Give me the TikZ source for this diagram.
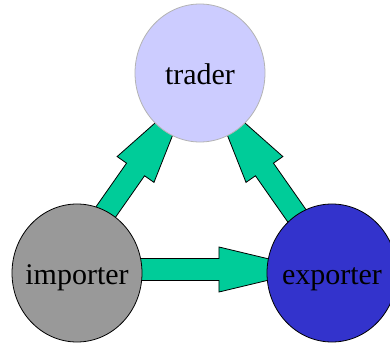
\documentclass[tikz,border=0pt]{standalone}
\usepackage{fontspec}
\setmainfont{Liberation Serif}
\usepackage{tikz}
\usetikzlibrary{calc,backgrounds,shapes.geometric}
\definecolor{tradefill}{HTML}{CCCCFF}
\definecolor{tradeline}{HTML}{B3B3B3}
\definecolor{importfill}{HTML}{999999}
\definecolor{exportfill}{HTML}{3333CC}
\definecolor{flowfill}{HTML}{00CC99}

% thick arrow from #1 to the tip #2
\newcommand{\fatarrow}[2]{%
  \coordinate (barb) at ($(#2)!94bp!(#1)$);
  \filldraw[flow] ($(#1)!11bp!90:(#2)$) -- ($(barb)!11bp!90:(#2)$)
    -- ($(barb)!22.5bp!90:(#2)$) -- (#2)
    -- ($(barb)!22.5bp!-90:(#2)$) -- ($(barb)!11bp!-90:(#2)$)
    -- ($(#1)!11bp!-90:(#2)$) -- cycle;
}

\begin{document}
\begin{tikzpicture}[
x=1bp, y=1bp,
font=\fontsize{30bp}{36bp}\selectfont,
party/.style={ellipse,inner sep=0pt,minimum width=130bp,minimum height=138bp,line width=0.8bp,text height=23bp,text depth=0pt},
flow/.style={fill=flowfill,draw=black,line width=0.8bp,line join=miter}
]
    \useasboundingbox (0,0) rectangle (390,344);

    % Draw the three parties
    \node[party, fill=tradefill, draw=tradeline] (trader) at (200,271) {\makebox[0pt]{trader}};
    \node[party, fill=importfill, draw=black] (importer) at (77,71) {\makebox[0pt]{importer}};
    \node[party, fill=exportfill, draw=black] (exporter) at (332,71) {\makebox[0pt]{exporter}};

    \draw
    ($(importer.center)+(-14,0)$) coordinate (imp-t)
    ($(trader.center)+(-10.5,-19.5)$) coordinate (trd-l)
    ($(exporter.center)+(5,0)$) coordinate (exp-t)
    ($(trader.center)+(10.5,-19.5)$) coordinate (trd-r)
    ($(importer.center)+(0,3.5)$) coordinate (imp-e)
    ($(exporter.center)+(-19,3.5)$) coordinate (exp-w);

    % Draw the flows behind the parties
    \begin{scope}[on background layer]
    \fatarrow{imp-t}{trd-l}
    \fatarrow{exp-t}{trd-r}
    \fatarrow{imp-e}{exp-w}
    \end{scope}

\end{tikzpicture}
\end{document}
